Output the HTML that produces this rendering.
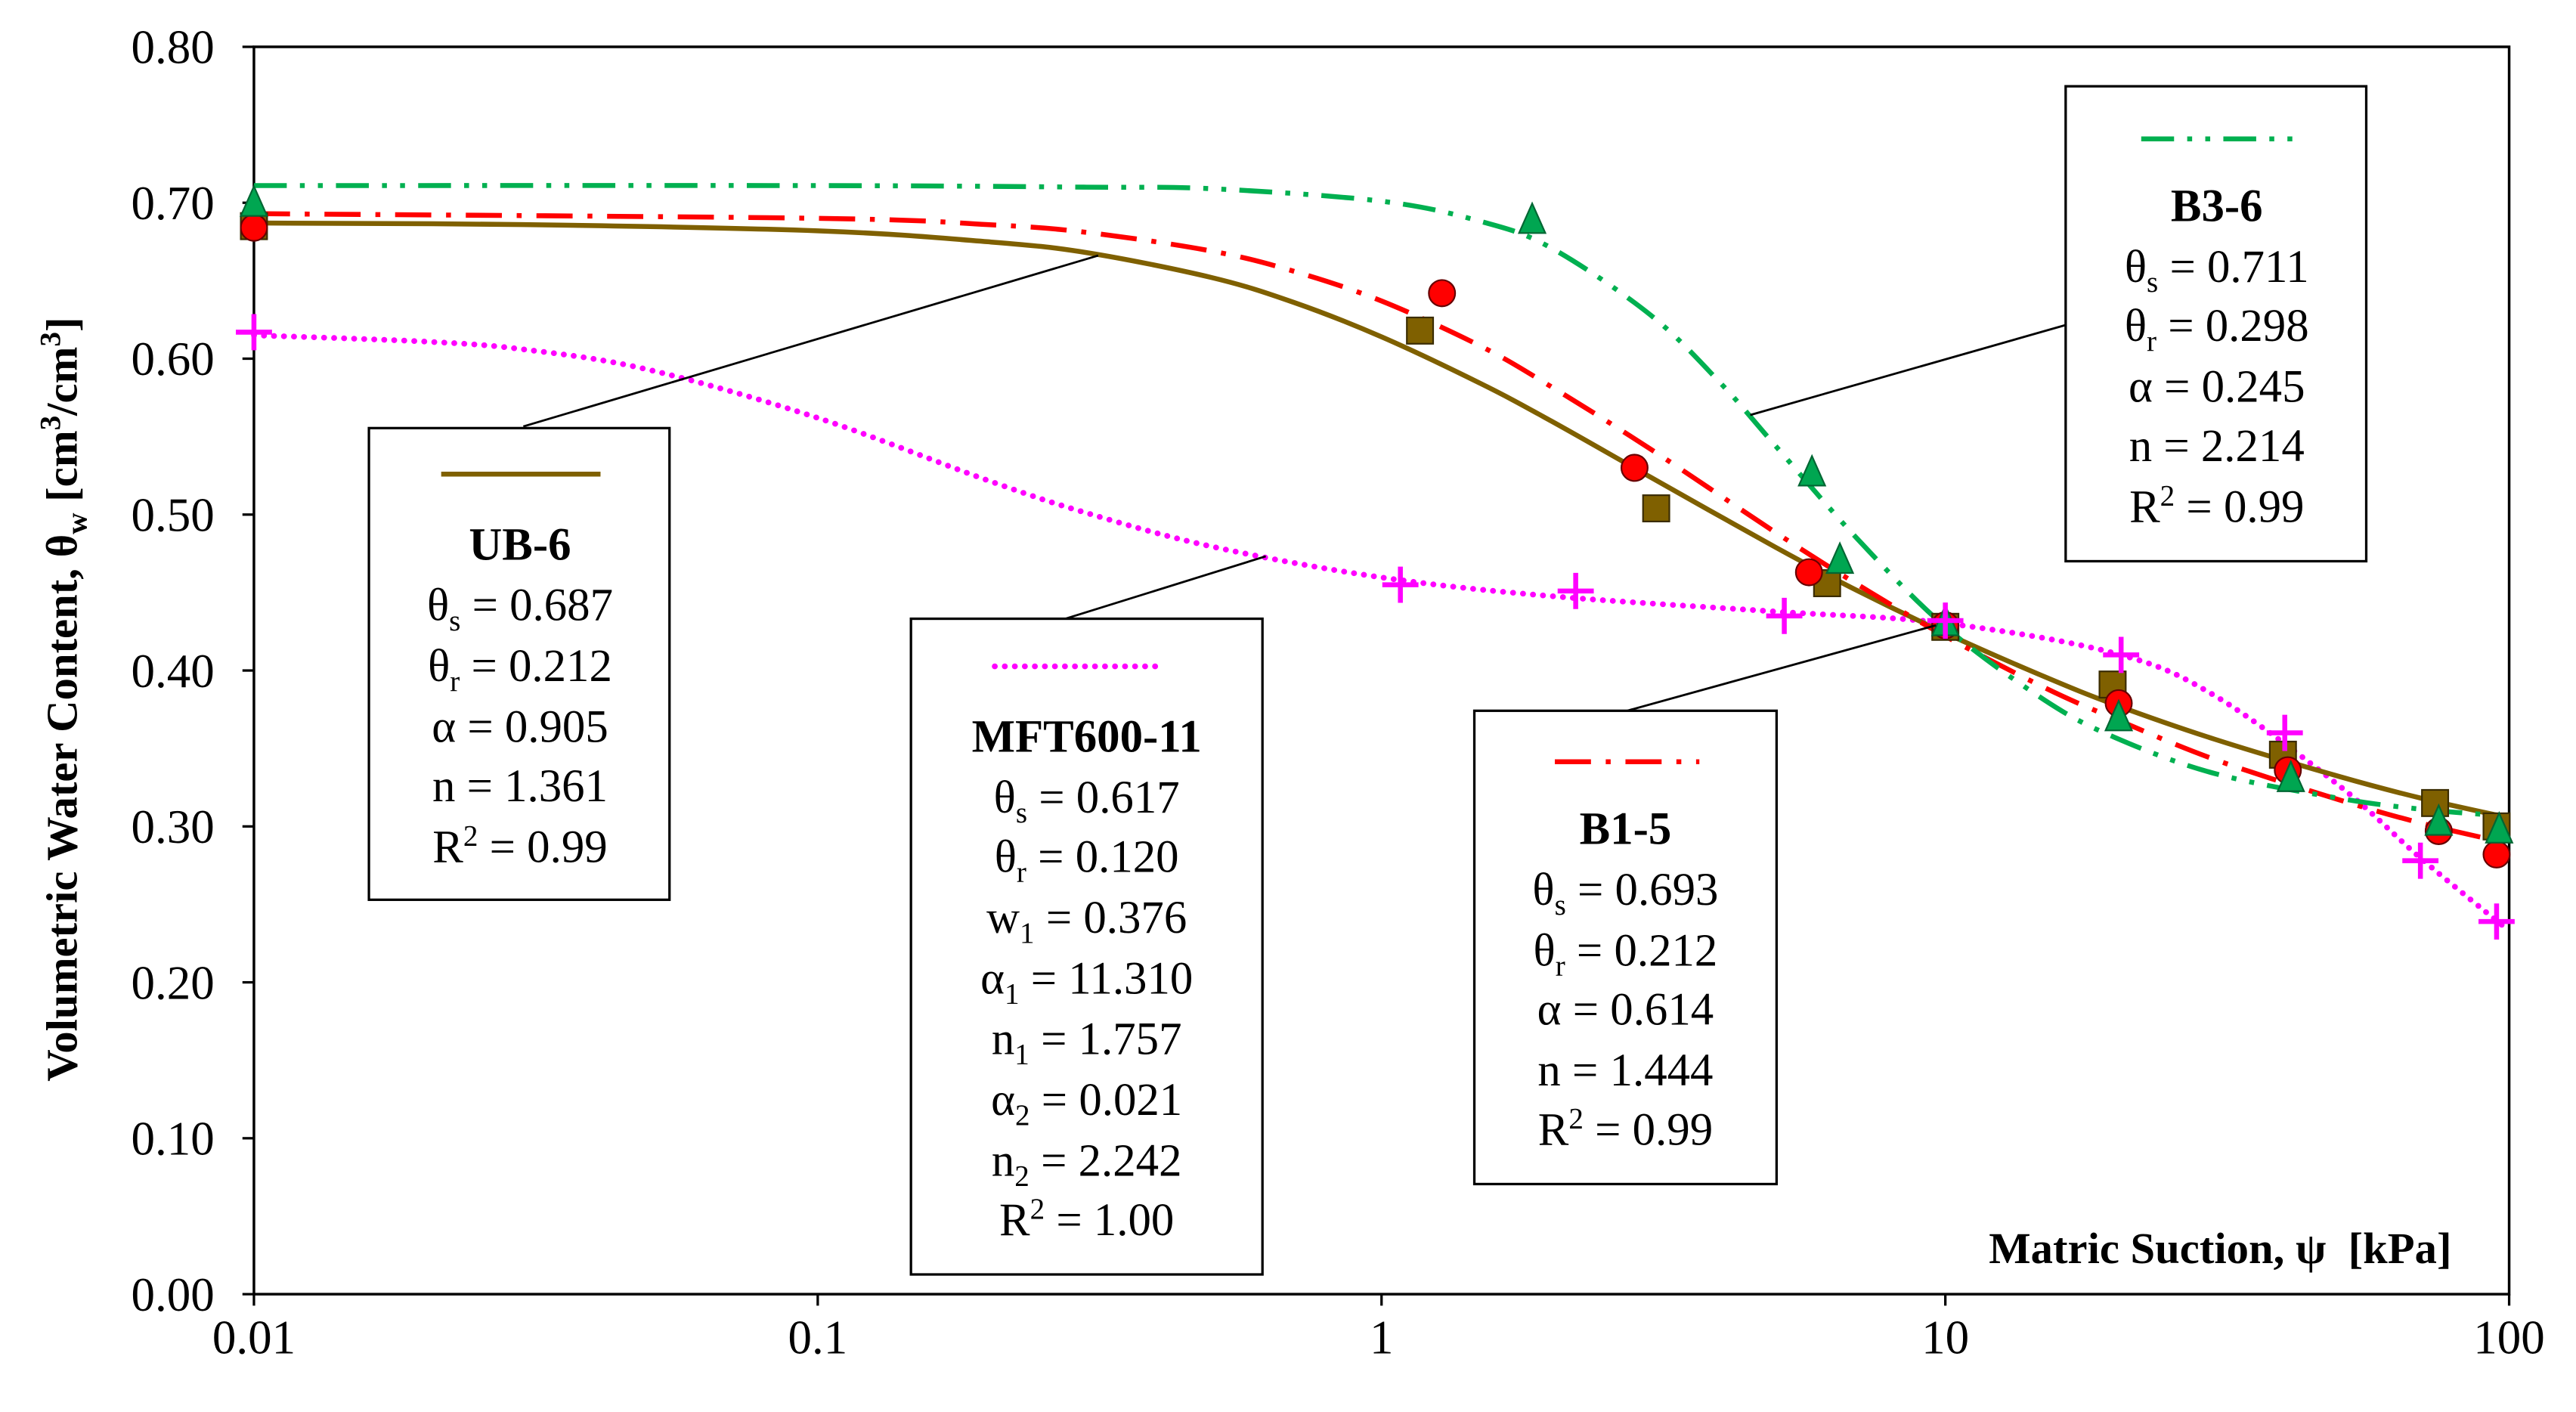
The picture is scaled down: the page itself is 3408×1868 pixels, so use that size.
<!DOCTYPE html>
<html><head><meta charset="utf-8"><style>
html,body{margin:0;padding:0;background:#fff;}
svg{display:block;font-family:"Liberation Serif",serif;}
</style></head><body>
<svg id="chart" width="3408" height="1868" viewBox="-0.6 -0.5 1568.3 859.2" preserveAspectRatio="none" xmlns="http://www.w3.org/2000/svg">
<g id="plot"></g>
</svg>
<script>
// ---- data ----
const xTicks=[0.01,0.1,1,10,100];
const xTickLabels=["0.01","0.1","1","10","100"];
const yTicks=[0,0.1,0.2,0.3,0.4,0.5,0.6,0.7,0.8];
const yTickLabels=["0.00","0.10","0.20","0.30","0.40","0.50","0.60","0.70","0.80"];
// fitted curves (sampled)
const ub6CurveX=[0.01,0.03,0.1,0.2,0.3,0.5,0.7,1,1.5,2,3,5,7,10,15,20,30,50,70,100];
const ub6CurveY=[0.687,0.686,0.682,0.675,0.668,0.652,0.636,0.614,0.584,0.560,0.524,0.479,0.451,0.424,0.396,0.378,0.356,0.332,0.318,0.3055];
const b15CurveX=[0.01,0.1,0.2,0.3,0.5,0.7,1,1.5,2,3,5,7,10,15,20,30,50,70,100];
const b15CurveY=[0.693,0.690,0.686,0.681,0.669,0.656,0.637,0.608,0.582,0.542,0.4885,0.455,0.422,0.389,0.369,0.343,0.317,0.302,0.289];
const b36CurveX=[0.01,0.1,0.3,0.5,1,1.5,2,3,4,5,7,10,15,20,30,50,70,100];
const b36CurveY=[0.711,0.711,0.710,0.709,0.701,0.688,0.671,0.628,0.584,0.544,0.484,0.428,0.381,0.357,0.334,0.318,0.311,0.3065];
const mftCurveX=[0.01,0.02,0.03,0.05,0.1,0.2,0.3,0.5,1,2,5,10,20,30,50,70,100];
const mftCurveY=[0.615,0.611,0.606,0.593,0.562,0.522,0.501,0.4795,0.4597,0.4477,0.4378,0.4303,0.411,0.384,0.326,0.279,0.233];
// measured points
const ub6PtsX=[0.01,1.17,3.07,6.17,10,19.8,39.7,73.9,95];
const ub6PtsY=[0.685,0.618,0.504,0.456,0.428,0.391,0.346,0.315,0.300];
const b15PtsX=[0.01,1.28,2.81,5.73,10,20.3,40.5,75,95];
const b15PtsY=[0.684,0.642,0.530,0.463,0.429,0.379,0.336,0.297,0.282];
const b36PtsX=[0.01,1.85,5.8,6.5,10,20.3,41,75,96];
const b36PtsY=[0.700,0.689,0.527,0.471,0.431,0.370,0.331,0.303,0.298];
const mftPtsX=[0.01,1.08,2.21,5.18,10,20.5,40,69.6,95];
const mftPtsY=[0.617,0.455,0.451,0.435,0.432,0.410,0.360,0.278,0.239];

// ---- scales ----
const L=154,R=1527,T=28,B=787;
function xs(v){return L+(Math.log10(v)+2)*(R-L)/4;}
function ys(v){return B-v*(B-T)/0.8;}
const NS="http://www.w3.org/2000/svg";
const g=document.getElementById('plot');
function el(tag,attrs,parent){const e=document.createElementNS(NS,tag);for(const k in attrs)e.setAttribute(k,attrs[k]);(parent||g).appendChild(e);return e;}

const frame=el('rect',{x:L,y:T,width:R-L,height:B-T,fill:'none',stroke:'#000','stroke-width':1.6});


yTicks.forEach((v,i)=>{
  const t=el('line',{x1:L-7,x2:L,y1:ys(v),y2:ys(v),stroke:'#000','stroke-width':1.5});
  
  
  const tx=el('text',{x:L-24,y:ys(v)+10,'text-anchor':'end','font-size':29});
  tx.textContent=yTickLabels[i];
  
  
});
xTicks.forEach((v,i)=>{
  const t=el('line',{x1:xs(v),x2:xs(v),y1:B,y2:B+7,stroke:'#000','stroke-width':1.5});
  
  
  const tx=el('text',{x:xs(v),y:B+36,'text-anchor':'middle','font-size':29});
  tx.textContent=xTickLabels[i];
  
  
});

function curvePath(X,Y){
  const p=X.map((x,i)=>[xs(x),ys(Y[i])]);
  let d='M'+p[0][0]+','+p[0][1];
  for(let i=0;i<p.length-1;i++){
    const p0=p[i-1]||p[i],p1=p[i],p2=p[i+1],p3=p[i+2]||p2;
    const c1=[p1[0]+(p2[0]-p0[0])/6,p1[1]+(p2[1]-p0[1])/6];
    const c2=[p2[0]-(p3[0]-p1[0])/6,p2[1]-(p3[1]-p1[1])/6];
    d+=' C'+c1+' '+c2+' '+p2;
  }
  return d;
}
const c1=el('path',{d:curvePath(mftCurveX,mftCurveY),fill:'none',stroke:'#ff00ff','stroke-width':3.5,'stroke-dasharray':'0.1 6','stroke-linecap':'round'});


const c2=el('path',{d:curvePath(ub6CurveX,ub6CurveY),fill:'none',stroke:'#7f6000','stroke-width':3});


const c3=el('path',{d:curvePath(b15CurveX,b15CurveY),fill:'none',stroke:'#ff0000','stroke-width':3,'stroke-dasharray':'22 9 3 9'});


const c4=el('path',{d:curvePath(b36CurveX,b36CurveY),fill:'none',stroke:'#00b050','stroke-width':3,'stroke-dasharray':'20 8 3 8 3 8'});



ub6PtsX.forEach((x,i)=>{const m=el('rect',{x:xs(x)-8,y:ys(ub6PtsY[i])-8,width:16,height:16,fill:'#7f6000',stroke:'#3a2c00','stroke-width':1});

});
b15PtsX.forEach((x,i)=>{const m=el('circle',{cx:xs(x),cy:ys(b15PtsY[i]),r:8,fill:'#ff0000',stroke:'#600','stroke-width':1});

});
b36PtsX.forEach((x,i)=>{const cx=xs(x),cy=ys(b36PtsY[i]);const m=el('polygon',{points:`${cx},${cy-10} ${cx+8},${cy+8} ${cx-8},${cy+8}`,fill:'#00a651',stroke:'#063','stroke-width':1});

});
mftPtsX.forEach((x,i)=>{const cx=xs(x),cy=ys(mftPtsY[i]);const m=el('path',{d:`M${cx-11},${cy}H${cx+11}M${cx},${cy-11}V${cy+11}`,stroke:'#ff00ff','stroke-width':3,fill:'none'});

});
</script>
<svg style="position:absolute;left:0;top:0" width="3408" height="1868" viewBox="-0.6 -0.5 1568.3 859.2" preserveAspectRatio="none" xmlns="http://www.w3.org/2000/svg" font-family="Liberation Serif, serif">
 <g stroke="#000" stroke-width="1.3">
  <line x1="318" y1="259" x2="668" y2="155"/>
  <line x1="648" y1="376" x2="770" y2="338"/>
  <line x1="990" y1="432" x2="1178" y2="380"/>
  <line x1="1258" y1="197" x2="1065" y2="252"/>
 </g>
 <g font-size="28" text-anchor="middle">
  <rect x="224" y="260" width="183" height="287" fill="#fff" stroke="#000" stroke-width="1.5"/>
  <line x1="268" y1="288" x2="365" y2="288" stroke="#7f6000" stroke-width="3"/>
  <text x="316" y="340" font-weight="bold">UB-6</text>
  <text x="316" y="377">θ<tspan font-size="18" dy="6">s</tspan><tspan dy="-6"> = 0.687</tspan></text>
  <text x="316" y="414">θ<tspan font-size="18" dy="6">r</tspan><tspan dy="-6"> = 0.212</tspan></text>
  <text x="316" y="451">α = 0.905</text>
  <text x="316" y="487">n = 1.361</text>
  <text x="316" y="524">R<tspan font-size="18" dy="-10">2</tspan><tspan dy="10"> = 0.99</tspan></text>
 </g>
 <g font-size="28" text-anchor="middle">
  <rect x="554" y="376" width="214" height="399" fill="#fff" stroke="#000" stroke-width="1.5"/>
  <line x1="605" y1="405" x2="705" y2="405" stroke="#ff00ff" stroke-width="3.5" stroke-dasharray="0.1 6" stroke-linecap="round"/>
  <text x="661" y="457" font-weight="bold">MFT600-11</text>
  <text x="661" y="494">θ<tspan font-size="18" dy="6">s</tspan><tspan dy="-6"> = 0.617</tspan></text>
  <text x="661" y="530">θ<tspan font-size="18" dy="6">r</tspan><tspan dy="-6"> = 0.120</tspan></text>
  <text x="661" y="567">w<tspan font-size="18" dy="6">1</tspan><tspan dy="-6"> = 0.376</tspan></text>
  <text x="661" y="604">α<tspan font-size="18" dy="6">1</tspan><tspan dy="-6"> = 11.310</tspan></text>
  <text x="661" y="641">n<tspan font-size="18" dy="6">1</tspan><tspan dy="-6"> = 1.757</tspan></text>
  <text x="661" y="678">α<tspan font-size="18" dy="6">2</tspan><tspan dy="-6"> = 0.021</tspan></text>
  <text x="661" y="715">n<tspan font-size="18" dy="6">2</tspan><tspan dy="-6"> = 2.242</tspan></text>
  <text x="661" y="751">R<tspan font-size="18" dy="-10">2</tspan><tspan dy="10"> = 1.00</tspan></text>
 </g>
 <g font-size="28" text-anchor="middle">
  <rect x="897" y="432" width="184" height="288" fill="#fff" stroke="#000" stroke-width="1.5"/>
  <line x1="946" y1="463" x2="1034" y2="463" stroke="#ff0000" stroke-width="3" stroke-dasharray="22 9 3 9"/>
  <text x="989" y="513" font-weight="bold">B1-5</text>
  <text x="989" y="550">θ<tspan font-size="18" dy="6">s</tspan><tspan dy="-6"> = 0.693</tspan></text>
  <text x="989" y="587">θ<tspan font-size="18" dy="6">r</tspan><tspan dy="-6"> = 0.212</tspan></text>
  <text x="989" y="623">α = 0.614</text>
  <text x="989" y="660">n = 1.444</text>
  <text x="989" y="696">R<tspan font-size="18" dy="-10">2</tspan><tspan dy="10"> = 0.99</tspan></text>
 </g>
 <g font-size="28" text-anchor="middle">
  <rect x="1257" y="52" width="183" height="289" fill="#fff" stroke="#000" stroke-width="1.5"/>
  <line x1="1303" y1="84" x2="1403" y2="84" stroke="#00b050" stroke-width="3" stroke-dasharray="20 8 3 8 3 8"/>
  <text x="1349" y="134" font-weight="bold">B3-6</text>
  <text x="1349" y="171">θ<tspan font-size="18" dy="6">s</tspan><tspan dy="-6"> = 0.711</tspan></text>
  <text x="1349" y="207">θ<tspan font-size="18" dy="6">r</tspan><tspan dy="-6"> = 0.298</tspan></text>
  <text x="1349" y="244">α = 0.245</text>
  <text x="1349" y="280">n = 2.214</text>
  <text x="1349" y="317">R<tspan font-size="18" dy="-10">2</tspan><tspan dy="10"> = 0.99</tspan></text>
 </g>
 <text x="1492" y="768" text-anchor="end" font-size="27" font-weight="bold" xml:space="preserve">Matric Suction, ψ  [kPa]</text>
 <text transform="translate(46,425) rotate(-90)" text-anchor="middle" font-size="27" font-weight="bold">Volumetric Water Content, θ<tspan font-size="18" dy="6">w</tspan><tspan dy="-6">  [cm</tspan><tspan font-size="18" dy="-10">3</tspan><tspan dy="10">/cm</tspan><tspan font-size="18" dy="-10">3</tspan><tspan dy="10">]</tspan></text>
</svg>
</body></html>
